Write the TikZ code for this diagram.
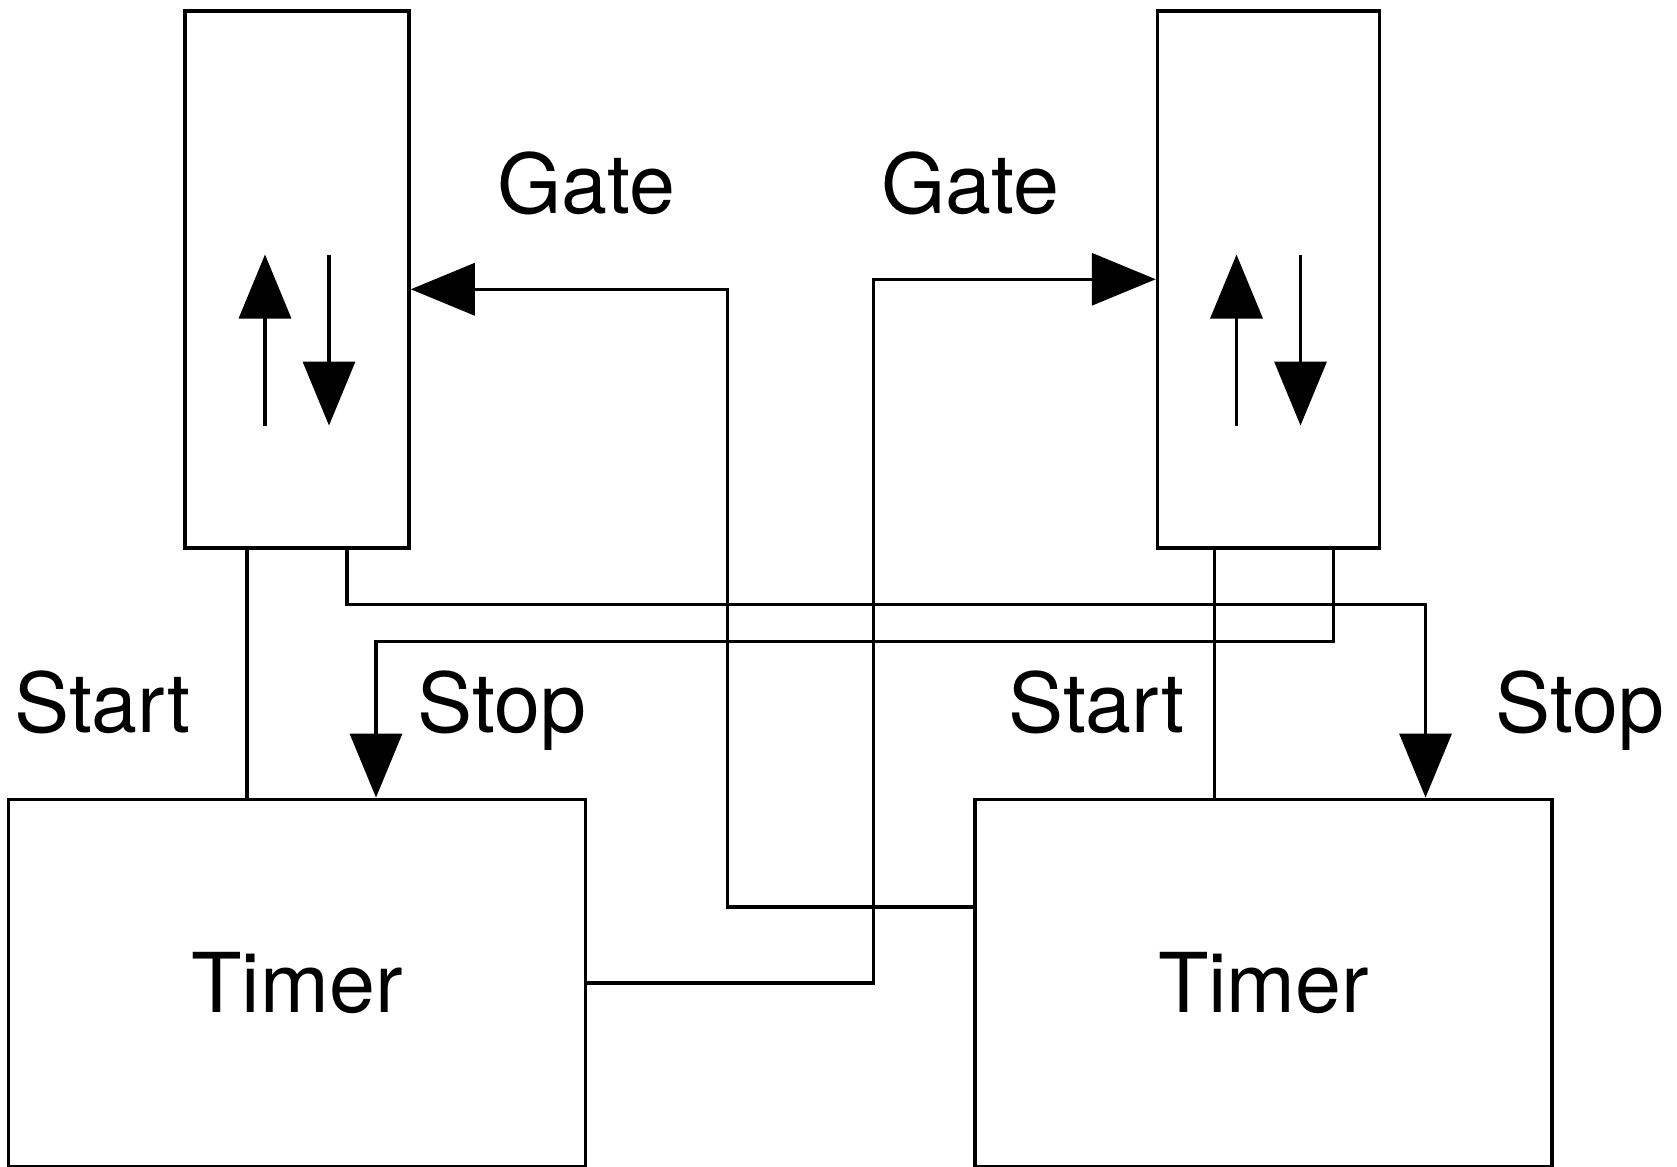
\documentclass[tikz,border=0pt]{standalone}
\usepackage{fontspec}
\setmainfont{TeX Gyre Heros}
\usepackage{tikz}
\usetikzlibrary{arrows.meta, positioning, calc}

\begin{document}
\begin{tikzpicture}[>={Triangle[length=0.64cm, width=0.52cm]}, line width=1pt, font=\fontsize{23.5}{28}\selectfont]
    \tikzstyle{counter} = [rectangle, draw, line width=1pt, minimum width=2.22cm, minimum height=5.37cm]
    \tikzstyle{timer} = [rectangle, draw, line width=1pt, minimum width=5.77cm, minimum height=3.67cm, text centered]
    \tikzstyle{lbl} = [anchor=base, inner sep=0pt]

    \useasboundingbox (0,0) rectangle (16.77,11.67);

    \node [counter, minimum width=2.24cm] (cntL) at (2.97,8.877) {};
    \node [counter, right=7.45cm of cntL] (cntR) {};
    \node [timer, below=2.48cm of cntL] (tmrL) {Timer};
    \node [timer, below=2.48cm of cntR, xshift=-0.05cm] (tmrR) {Timer};

    % up/down arrows in the counters
    \draw [->] ([shift={(-0.32,1.24)}]cntL.south) -- ([shift={(-0.32,2.95)}]cntL.south);
    \draw [->] ([shift={(0.32,2.95)}]cntL.south) -- ([shift={(0.32,1.24)}]cntL.south);
    \draw [->] ([shift={(-0.32,1.24)}]cntR.south) -- ([shift={(-0.32,2.95)}]cntR.south);
    \draw [->] ([shift={(0.32,2.95)}]cntR.south) -- ([shift={(0.32,1.24)}]cntR.south);

    \node [lbl] (gateL) at (5.86,9.53) {Gate};
    \node [lbl] (gateR) at (9.70,9.53) {Gate};
    \node [lbl] (startL) at (1.025,4.34) {Start};
    \node [lbl] (stopL) at (5.02,4.34) {Stop};
    \node [lbl] (startR) at (10.965,4.34) {Start};
    \node [lbl] (stopR) at (15.80,4.34) {Stop};

    \path [draw] ([xshift=-5mm]cntL.south) -- ([xshift=-5mm]cntL.south |- tmrL.north);
    \path [draw] ([xshift=-5.4mm]cntR.south) -- ([xshift=-5.4mm]cntR.south |- tmrR.north);
    \path [draw, ->] ([xshift=5mm]cntL.south) -- ++(0,-0.55) -| ([xshift=1.62cm]tmrR.north);
    \path [draw, ->] ([xshift=6.5mm]cntR.south) -- ++(0,-0.92) -| ([xshift=7.9mm]tmrL.north);
    \path [draw, ->] ([yshift=7.6mm]tmrR.west) -- ++(-2.46,0) |- ([yshift=-1mm]cntL.east);
    \path [draw, ->] (tmrL.east) -- ++(2.86,0) |- (cntR.west);
\end{tikzpicture}
\end{document}
